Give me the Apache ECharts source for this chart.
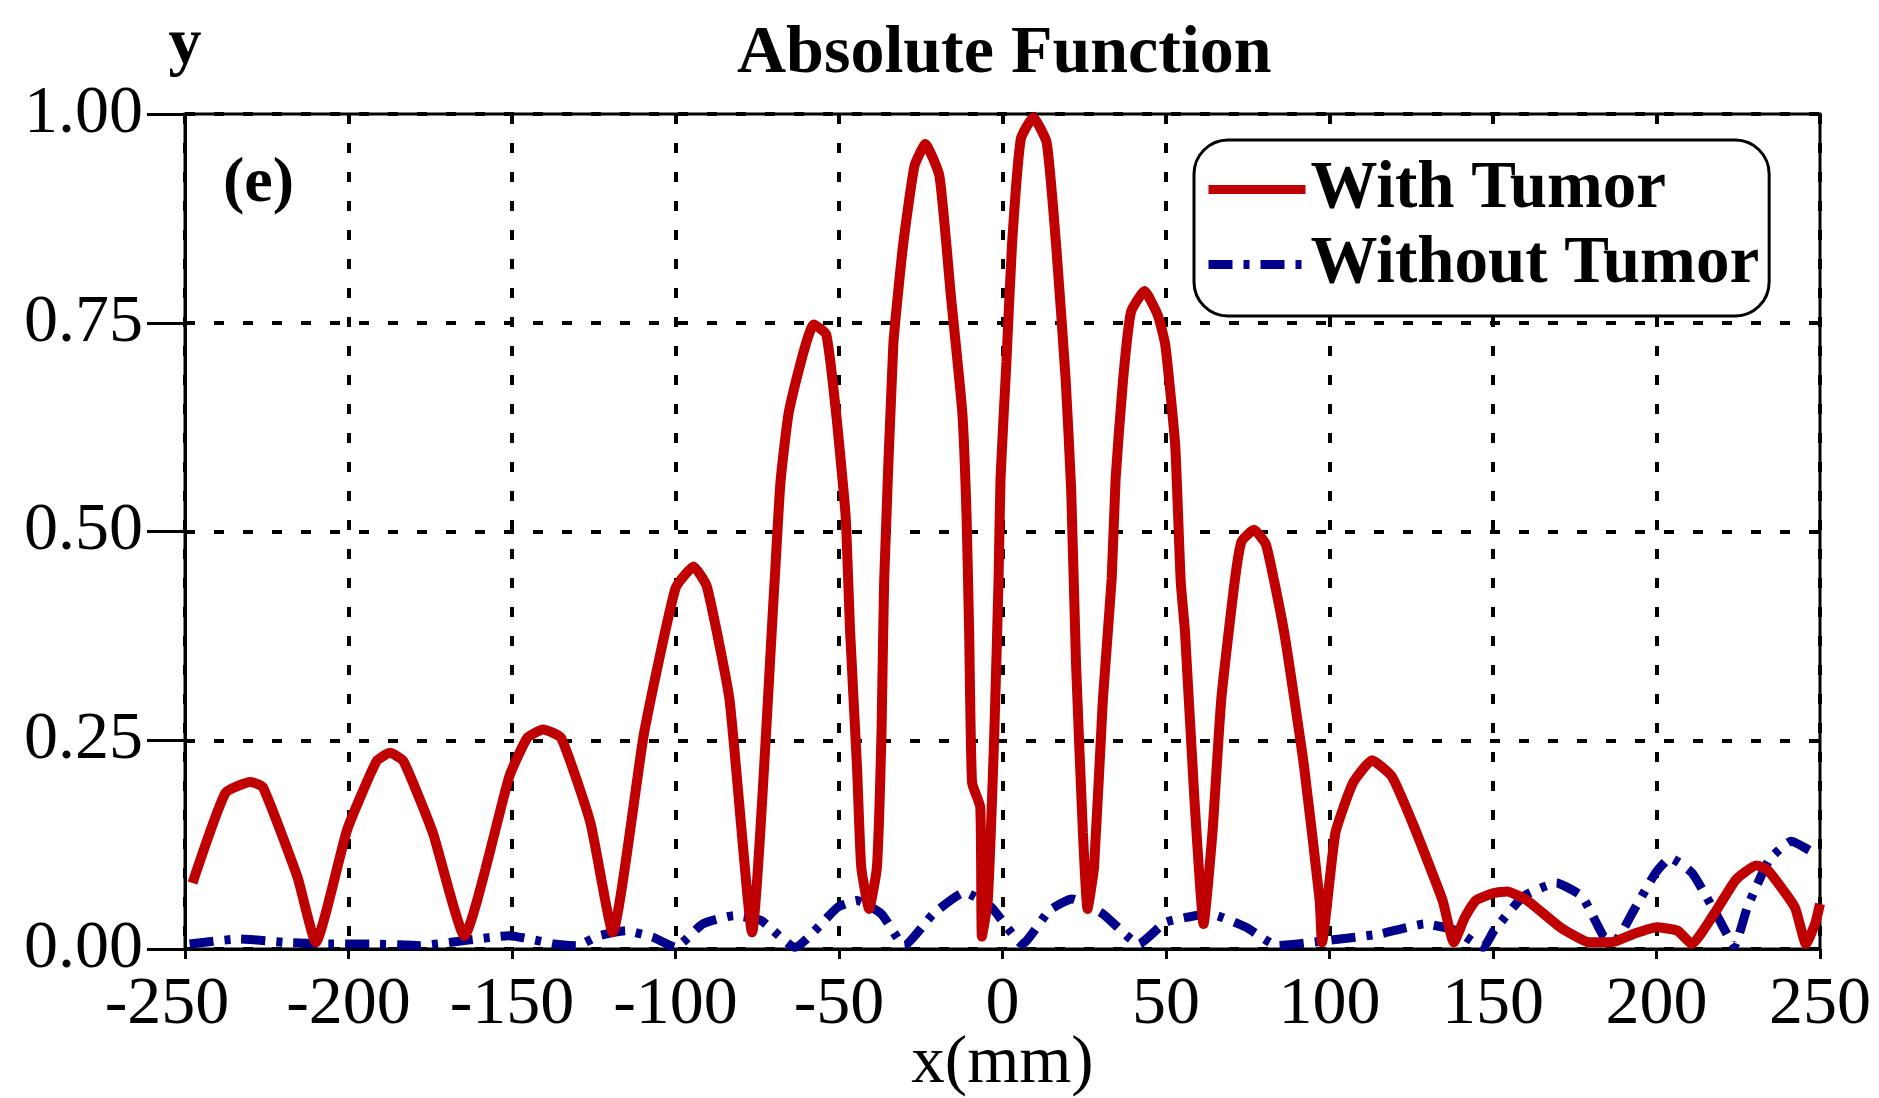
<!DOCTYPE html>
<html>
<head>
<meta charset="utf-8">
<script src="https://cdn.jsdelivr.net/npm/echarts@6/dist/echarts.min.js"></script>
<style>
html,body{margin:0;padding:0;background:#fff;}
#chart{width:1879px;height:1098px;}
</style>
</head>
<body>
<div id="chart"></div>
<script>
var titleText = 'Absolute Function';
var panelLabel = '(e)';
var seriesNames = ['With Tumor', 'Without Tumor'];
var xTicks = [-250, -200, -150, -100, -50, 0, 50, 100, 150, 200, 250];
var yTicks = [0, 0.25, 0.5, 0.75, 1.0];

var withX = [-247.7,-237.6,-230,-226.2,-215.6,-210,-200.4,-191.4,-187.3,-183.2,-174.2,-164.6,
  -150.8,-145.3,-140.5,-135,-126,-119.2,-109.6,-100,-94.5,-90.4,-83.5,-76.6,
  -69.7,-67.9,-65.2,-57.7,-53.9,-51,-48,-46.6,-44.5,-43.2,-40.8,-38.4,-37,-36.2,
  -33.4,-30.4,-26.9,-23.6,-19.3,-15.8,-12.3,-11,-10.2,-9.3,-6.8,-6.3,-4.5,-2.5,
  -1.2,-0.6,1.2,2.9,5.6,9.4,13.5,16.4,19.3,21,22.5,24.6,26,28,30.7,33.4,34.6,36.9,
  39.3,43.4,47.5,49.8,52.8,54.5,55.8,58.7,61.5,64.2,66.9,71,73.1,76.9,80.6,86.1,
  92.2,97,97.7,101.8,107.2,113,119,125.8,134.6,138,141.4,144.7,150.3,154.3,160.5,
  170.6,179.5,186.3,193,200,206.4,210.8,217.6,224.3,230.5,233.9,242.3,245.7,248.5,250];
var withY = [0.079,0.187,0.2,0.194,0.086,0.008,0.143,0.225,0.235,0.225,0.139,0.016,
  0.207,0.253,0.263,0.253,0.151,0.02,0.259,0.432,0.458,0.434,0.299,0.02,
  0.44,0.559,0.646,0.748,0.736,0.646,0.52,0.38,0.219,0.098,0.048,0.098,0.259,0.44,
  0.723,0.843,0.938,0.964,0.926,0.783,0.643,0.52,0.38,0.199,0.17,0.015,0.058,0.259,
  0.444,0.564,0.703,0.843,0.97,0.996,0.966,0.843,0.683,0.55,0.34,0.139,0.048,0.098,0.299,0.444,0.564,0.683,
  0.763,0.788,0.759,0.723,0.604,0.44,0.38,0.179,0.03,0.139,0.299,0.44,0.488,0.502,0.484,0.38,
  0.219,0.058,0.008,0.139,0.199,0.226,0.207,0.147,0.058,0.008,0.038,0.058,0.067,0.069,0.058,
  0.026,0.008,0.008,0.018,0.026,0.022,0.006,0.042,0.083,0.1,0.095,0.05,0.006,0.03,0.054];

var withoutX = [-248.6,-233.5,-219.7,-206,-192.2,-178.4,-164.7,-150.9,-137.2,-130.3,-123.4,-115.2,
  -106.9,-100,-91.7,-82.1,-73.8,-63.5,-50.4,-44.5,-37,-30,-21.2,-11.6,-3.4,6.1,14.3,21.2,
  30.7,41.7,49.9,63.5,74.5,84,99,115.4,129.1,138.7,147,150.3,159.3,169.4,177.2,184,187.3,
  193,199.7,204.2,210.9,218.8,223.8,227.8,234.5,241.2,249];
var withoutY = [0.006,0.012,0.008,0.006,0.006,0.004,0.01,0.016,0.006,0.004,0.016,0.022,
  0.014,0.002,0.03,0.04,0.034,0.002,0.05,0.058,0.042,0.004,0.042,0.068,0.05,0.006,0.046,0.06,
  0.042,0.006,0.032,0.042,0.026,0.004,0.01,0.018,0.03,0.022,0.002,0.022,0.063,0.079,0.063,0.014,0.01,
  0.046,0.091,0.109,0.091,0.038,0.004,0.05,0.107,0.129,0.113];

function zip(a, b) { return a.map(function (v, i) { return [v, b[i]]; }); }

var FONT = "'Liberation Serif','Times New Roman',serif";
var chart = echarts.init(document.getElementById('chart'), null, {renderer: 'canvas'});
chart.setOption({
  backgroundColor: '#fff',
  animation: false,
  title: [
    {text: titleText, left: 737, top: 20, padding: 0,
     textStyle: {fontFamily: FONT, fontWeight: 'bold', fontSize: 68, color: '#000'}},
    {text: panelLabel, left: 223, top: 152, padding: 0,
     textStyle: {fontFamily: FONT, fontWeight: 'bold', fontSize: 64, color: '#000'}}
  ],
  legend: {
    orient: 'vertical', left: 1194, top: 140,
    padding: [16, 10, 18, 10],
    itemWidth: 97, itemHeight: 20, itemGap: 8,
    borderColor: '#000', borderWidth: 3, borderRadius: 34,
    backgroundColor: '#fff',
    itemStyle: {opacity: 0},
    lineStyle: {width: 9},
    textStyle: {fontFamily: FONT, fontWeight: 'bold', fontSize: 67, color: '#000'},
    data: seriesNames
  },
  grid: {left: 185, right: 59, top: 114, bottom: 149, show: true,
         outerBoundsMode: 'none', containLabel: false,
         borderColor: '#000', borderWidth: 3, backgroundColor: 'transparent'},
  xAxis: {
    type: 'value', min: xTicks[0], max: xTicks[xTicks.length - 1], interval: 50,
    name: 'x(mm)', nameLocation: 'middle', nameGap: 82, nameMoveOverlap: false,
    nameTextStyle: {fontFamily: FONT, fontSize: 67, color: '#000'},
    axisLine: {show: true, onZero: false, lineStyle: {color: '#000', width: 3}},
    axisTick: {show: true, inside: false, length: 10, lineStyle: {color: '#000', width: 3}},
    axisLabel: {fontFamily: FONT, fontSize: 68, color: '#000', margin: 22, showMinLabel: true, showMaxLabel: true,
      formatter: function (v) { return v === xTicks[0] ? '{m|' + v + '}' : String(v); },
      rich: {m: {fontFamily: FONT, fontSize: 68, color: '#000', padding: [0, 36, 0, 0]}}},
    splitLine: {show: true, lineStyle: {color: '#000', width: 4, type: [10, 19]}}
  },
  yAxis: {
    type: 'value', min: yTicks[0], max: yTicks[yTicks.length - 1], interval: 0.25,
    name: 'y', nameLocation: 'end', nameGap: 35,
    nameTextStyle: {fontFamily: FONT, fontWeight: 'bold', fontSize: 66, color: '#000', align: 'center'},
    axisLine: {show: true, onZero: false, lineStyle: {color: '#000', width: 3}},
    axisTick: {show: true, inside: false, length: 38, lineStyle: {color: '#000', width: 3}},
    axisLabel: {fontFamily: FONT, fontSize: 68, color: '#000', margin: 42,
                formatter: function (v) { return v.toFixed(2); }},
    splitLine: {show: true, lineStyle: {color: '#000', width: 4, type: [10, 19]}}
  },
  series: [
    {name: seriesNames[0], type: 'line', data: zip(withX, withY), symbol: 'none', smooth: 0.15,
     lineStyle: {color: '#C00000', width: 10}, itemStyle: {color: '#C00000'}, z: 3},
    {name: seriesNames[1], type: 'line', data: zip(withoutX, withoutY), symbol: 'none', smooth: 0.15,
     lineStyle: {color: '#00008B', width: 9, type: [24, 11, 6, 11]}, itemStyle: {color: '#00008B'}, z: 2}
  ]
});
</script>
</body>
</html>
